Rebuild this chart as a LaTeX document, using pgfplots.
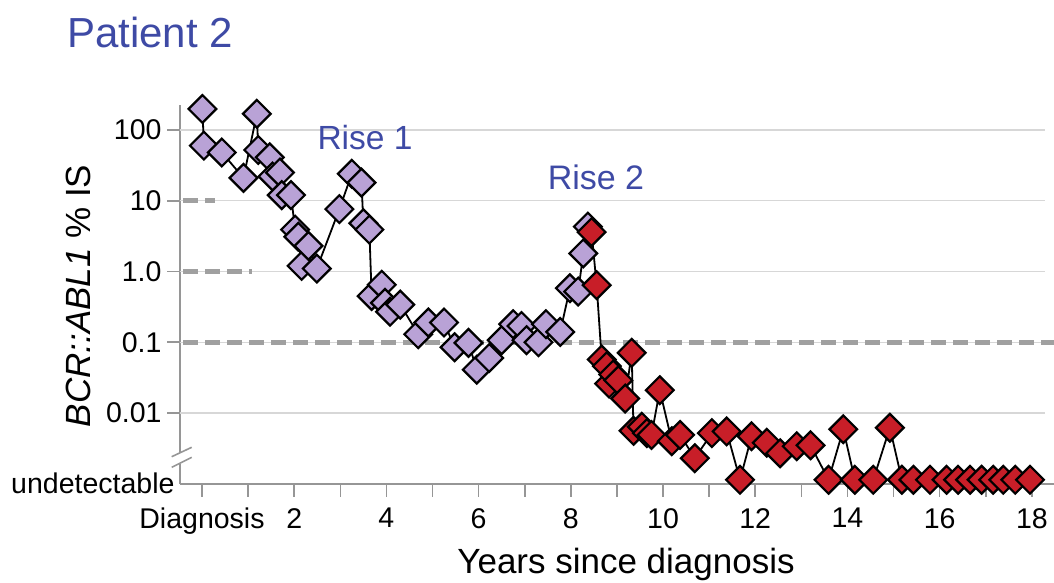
\documentclass[border=0pt]{standalone}
\usepackage{pgfplots}
\pgfplotsset{compat=1.18}
\usepackage{fontspec}
\setmainfont{Liberation Sans}
\definecolor{lav}{RGB}{185,162,214}
\definecolor{myred}{RGB}{200,30,40}
\definecolor{ttl}{RGB}{62,74,165}
\definecolor{axgray}{RGB}{150,150,150}
\definecolor{gridgray}{RGB}{215,215,215}
\definecolor{dashgray}{RGB}{160,160,160}
\begin{document}
\begin{tikzpicture}
\begin{axis}[
  at={(180pt,98.2pt)}, anchor=south west,
  scale only axis, width=874pt, height=378.8pt,
  xmin=-0.477, xmax=18.48,
  ymode=log, ymin=0.001, ymax=225,
  axis lines=left,
  axis line style={-, draw=axgray, line width=1.6pt},
  xtick={0,1,...,18},
  xticklabels={Diagnosis,,2,,4,,6,,8,,10,,12,,14,,16,,18},
  ytick={0.01,0.1,1,10,100},
  yticklabels={0.01,0.1,1.0,10,100},
  extra y ticks={0.001},
  extra y tick labels={undetectable},
  extra y tick style={major tick length=0pt, tick style={draw=none}},
  yminorticks=false, xminorticks=false,
  tick align=outside, major tick length=13pt,
  tick style={draw=axgray, line width=1.6pt},
  tick label style={font=\fontsize{28.5}{30}\selectfont},
  xticklabel style={yshift=-8pt},
  yticklabel style={xshift=-2pt},
  clip=false,
]
% grid lines
\addplot[gridgray, line width=1.3pt, no marks, forget plot] coordinates {(-0.477,100) (18.29,100)};
\addplot[gridgray, line width=1.3pt, no marks, forget plot] coordinates {(-0.477,10) (18.29,10)};
\addplot[gridgray, line width=1.3pt, no marks, forget plot] coordinates {(-0.477,1) (18.29,1)};
\addplot[gridgray, line width=1.3pt, no marks, forget plot] coordinates {(-0.477,0.1) (18.29,0.1)};
\addplot[gridgray, line width=1.3pt, no marks, forget plot] coordinates {(-0.477,0.01) (18.29,0.01)};
% response thresholds
\addplot[dashgray, line width=5pt, dash pattern=on 15pt off 7pt, no marks, forget plot] coordinates {(-0.41,10) (0.28,10)};
\addplot[dashgray, line width=5pt, dash pattern=on 15pt off 7pt, no marks, forget plot] coordinates {(-0.41,1) (1.08,1)};
\addplot[dashgray, line width=5pt, dash pattern=on 15pt off 7pt, no marks, forget plot] coordinates {(-0.41,0.1) (18.48,0.1)};
% purple series
\addplot[black, line width=1.8pt, mark=square*, mark size=9.8pt,
  mark options={rotate=45, fill=lav, draw=black, line width=2.2pt, solid}]
coordinates {
(0.01,198) (0.04,60) (0.43,48) (0.90,21) (1.19,169) (1.22,52) (1.47,41)
(1.53,22) (1.69,25) (1.73,12) (1.93,12) (2.02,3.9) (2.09,3.1) (2.16,1.2)
(2.31,2.3) (2.49,1.1) (2.98,7.6) (3.25,24) (3.46,18) (3.50,4.8) (3.63,3.9)
(3.68,0.45) (3.90,0.65) (3.97,0.36) (4.08,0.27) (4.30,0.34) (4.69,0.13)
(4.91,0.19) (5.25,0.19) (5.48,0.085) (5.78,0.098) (5.96,0.041) (6.23,0.06)
(6.50,0.107) (6.75,0.18) (6.93,0.17) (7.04,0.107) (7.30,0.10) (7.46,0.18)
(7.77,0.14) (7.98,0.58) (8.16,0.52) (8.27,1.8) (8.37,4.3)
};
% red series
\addplot[black, line width=1.8pt, mark=square*, mark size=9.8pt,
  mark options={rotate=45, fill=myred, draw=black, line width=2.2pt, solid}]
coordinates {
(8.45,3.6) (8.56,0.64) (8.67,0.057) (8.78,0.046) (8.83,0.026) (8.92,0.035)
(9.03,0.029) (9.18,0.016) (9.32,0.071) (9.36,0.0056) (9.54,0.0064)
(9.65,0.0052) (9.75,0.0049) (9.93,0.021) (10.19,0.0040) (10.37,0.0049)
(10.69,0.0023) (11.06,0.0052) (11.38,0.0055) (11.67,0.00114) (11.92,0.0047)
(12.25,0.0038) (12.54,0.0027) (12.90,0.0034) (13.20,0.0035) (13.59,0.00114)
(13.91,0.0059) (14.16,0.00114) (14.56,0.00114) (14.92,0.0062)
(15.18,0.00114) (15.43,0.00114) (15.79,0.00114) (16.15,0.00114)
(16.40,0.00114) (16.66,0.00114) (16.91,0.00114) (17.16,0.00114)
(17.38,0.00114) (17.64,0.00114) (17.96,0.00114)
};
\end{axis}
% axis break marks
\fill[white] (176pt,118.5pt) rectangle (184pt,129.5pt);
\draw[axgray, line width=1.6pt] (171.7pt,125.3pt) -- (191.7pt,134.7pt);
\draw[axgray, line width=1.6pt] (171.7pt,114.7pt) -- (191.7pt,124.7pt);
% texts
\node[anchor=base west, inner sep=0pt, text=ttl, font=\fontsize{42}{44}\selectfont] at (67pt,534pt) {Patient 2};
\node[text=ttl, inner sep=0pt, font=\fontsize{33.5}{35}\selectfont] at (365pt,444pt) {Rise 1};
\node[text=ttl, inner sep=0pt, font=\fontsize{34}{36}\selectfont] at (596pt,405pt) {Rise 2};
\node[rotate=90, inner sep=0pt, font=\fontsize{35}{37}\selectfont] at (78pt,286pt) {\textit{BCR::ABL1} \% IS};
\node[anchor=base, inner sep=0pt, font=\fontsize{35}{37}\selectfont] at (626pt,8.5pt) {Years since diagnosis};
\pgfresetboundingbox
\path[use as bounding box] (0pt,0pt) rectangle (1054pt,582pt);
\end{tikzpicture}
\end{document}
